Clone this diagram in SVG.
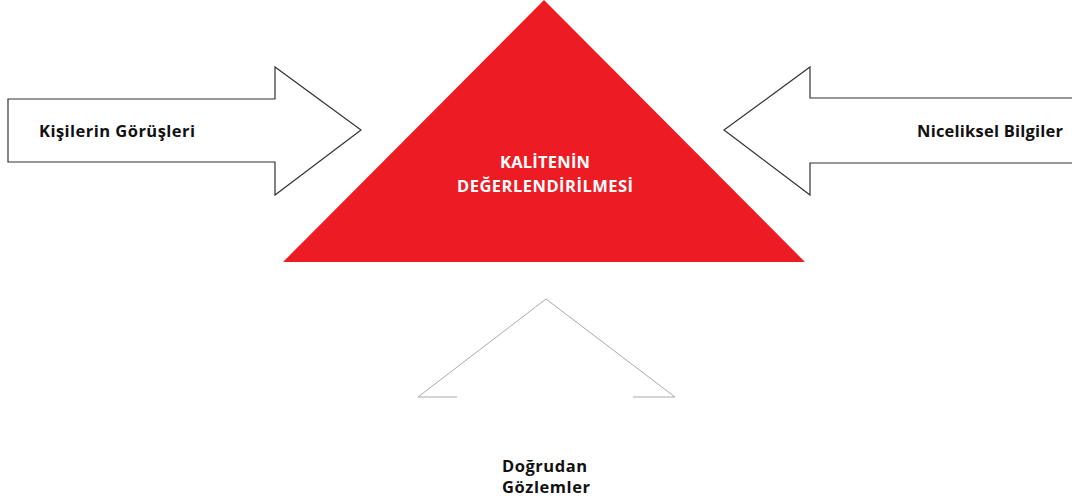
<svg xmlns="http://www.w3.org/2000/svg" width="1072" height="501" viewBox="0 0 1072 501">
<style>
.lbl{font-family:"Open Sans","Liberation Sans",sans-serif;font-weight:700;font-size:16.5px;fill:#111}
.w{fill:#fff}
.arrow{fill:#fff;stroke:#333;stroke-width:1.2}
.open{fill:none;stroke:#aaa;stroke-width:1}
</style>
<rect width="1072" height="501" fill="#fff"/>
<g id="center">
<polygon points="544,0 805,262 283,262" fill="#ED1C24"/>
<text class="lbl w" x="500" y="168" textLength="90" lengthAdjust="spacing">KALİTENİN</text>
<text class="lbl w" x="457" y="192" textLength="176" lengthAdjust="spacing">DEĞERLENDİRİLMESİ</text>
</g>
<g id="left">
<polygon class="arrow" points="8,99 275,99 275,67 361,130 275,195 275,162 8,162"/>
<text class="lbl" x="39" y="137" textLength="156" lengthAdjust="spacing">Kişilerin Görüşleri</text>
</g>
<g id="right">
<polygon class="arrow" points="1073,98 810,98 810,67 724,130 810,195 810,163 1073,163"/>
<text class="lbl" x="917" y="137" textLength="146" lengthAdjust="spacing">Niceliksel Bilgiler</text>
</g>
<g id="bottom">
<polyline class="open" points="457,397 418,397 546,299 675,397 633,397"/>
<text class="lbl" x="502" y="472" textLength="85" lengthAdjust="spacing">Doğrudan</text>
<text class="lbl" x="502" y="493" textLength="88" lengthAdjust="spacing">Gözlemler</text>
</g>
</svg>
